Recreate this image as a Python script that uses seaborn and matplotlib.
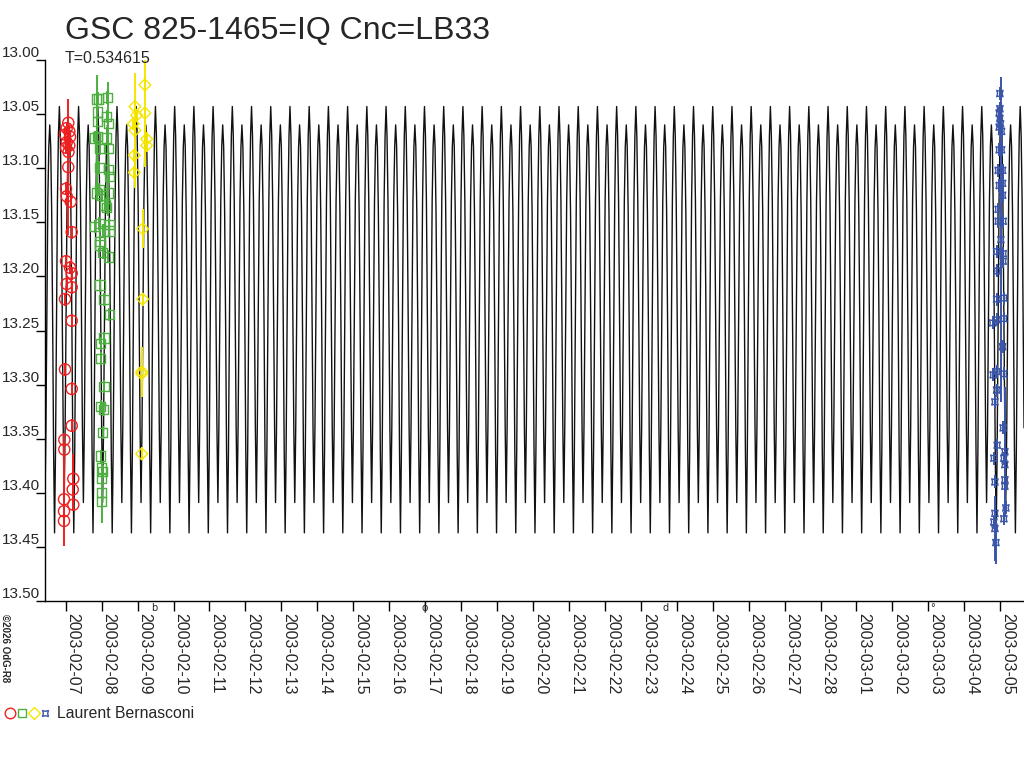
import numpy as np
import pandas as pd
import matplotlib
matplotlib.use("Agg")
import matplotlib.pyplot as plt
import matplotlib.transforms as mtransforms
import seaborn as sns

# times are days after 2003-02-07 00:00 UT
START = "2003-02-07"
END = "2003-03-05"
PERIOD = 0.534615
EPOCH_MIN = 9.313  # a primary minimum, ~2003-02-16 07:30 UT

# one cycle of the model curve (phase 0 = primary minimum)
cycle_phase = [0.00, 0.05, 0.10, 0.15, 0.20, 0.25, 0.30, 0.35, 0.40, 0.45,
               0.50, 0.55, 0.60, 0.65, 0.70, 0.75, 0.80, 0.85, 0.90, 0.95]
cycle_mag = [13.437, 13.360, 13.240, 13.130, 13.070, 13.043, 13.070, 13.130, 13.230, 13.340,
             13.409, 13.340, 13.230, 13.130, 13.080, 13.060, 13.080, 13.140, 13.240, 13.360]

# observations (Laurent Bernasconi), four runs
red_t = [0.072, 0.028, 0.100, -0.019, 0.120, 0.028, 0.100, 0.008, 0.078,
         0.072, 0.008, 0.028, 0.139, 0.167,
         0.008, 0.120, 0.167, 0.028, 0.167, -0.019,
         0.167, -0.019, 0.167, 0.167, -0.039, -0.039,
         0.211, 0.195, -0.047, 0.211, -0.047, -0.047]
red_mag = [13.058, 13.063, 13.066, 13.069, 13.071, 13.076, 13.079, 13.081, 13.085,
           13.099, 13.119, 13.126, 13.131, 13.159,
           13.186, 13.192, 13.197, 13.207, 13.210, 13.221,
           13.241, 13.286, 13.304, 13.338, 13.351, 13.360,
           13.387, 13.397, 13.406, 13.411, 13.417, 13.426]
red_err = [0.006] * 9 + [0.063] + [0.006] * 16 + [0.023, 0.006, 0.043, 0.006, 0.006, 0.006]

green_t = [0.862, 0.907, 1.157, 0.879, 1.140, 0.879, 1.185, 0.815, 0.879, 1.140,
           0.954, 1.185, 0.935, 1.185, 1.213, 0.935, 0.862, 1.001, 1.185, 1.093,
           1.140, 0.815, 0.935, 1.213, 1.046, 1.213, 0.954, 0.954, 1.029, 1.185,
           0.954, 1.065, 1.213, 1.065, 0.974, 0.974, 1.065, 0.974, 1.046, 1.029,
           0.974, 1.001, 1.029, 1.001, 1.001, 1.001]
green_mag = [13.036, 13.036, 13.035, 13.048, 13.052, 13.057, 13.059, 13.072, 13.071, 13.072,
             13.082, 13.082, 13.099, 13.101, 13.108, 13.120, 13.123, 13.125, 13.123, 13.134,
             13.136, 13.154, 13.151, 13.152, 13.158, 13.158, 13.168, 13.171, 13.178, 13.182,
             13.208, 13.221, 13.235, 13.257, 13.262, 13.276, 13.302, 13.320, 13.323, 13.344,
             13.366, 13.377, 13.380, 13.387, 13.400, 13.408]
green_err = [0.006] * 8 + [0.057, 0.006, 0.006, 0.062] + [0.006] * 32 + [0.028, 0.006]

yellow_t = [1.925, 1.975, 1.880, 1.925, 2.203, 2.203, 2.253, 2.253, 1.908, 1.908,
            2.142, 2.142, 2.114, 2.114, 2.114]
yellow_mag = [13.043, 13.051, 13.059, 13.065, 13.023, 13.049, 13.073, 13.079, 13.088, 13.104,
              13.156, 13.221, 13.288, 13.290, 13.364]
yellow_err = [0.006, 0.006, 0.006, 0.053, 0.006, 0.050, 0.006, 0.006, 0.006, 0.006,
              0.018, 0.006, 0.023, 0.006, 0.006]

blue_t = [25.989, 25.989, 25.970, 25.989, 26.008, 25.970, 26.036, 25.970, 26.036, 25.942,
          26.064, 25.970, 26.064, 26.064, 25.942, 25.942, 26.081, 26.017, 25.897, 26.081,
          26.081, 25.914, 25.897, 26.100, 25.786, 25.897, 26.100, 26.064, 25.803, 25.914,
          26.100, 25.897, 25.850, 26.081, 25.914, 26.127, 25.822, 26.100, 26.127, 25.850,
          26.127, 26.127, 26.155, 26.100, 25.850, 25.822, 25.850, 25.878]
blue_mag = [13.031, 13.045, 13.049, 13.054, 13.059, 13.062, 13.066, 13.083, 13.083, 13.102,
            13.102, 13.116, 13.114, 13.125, 13.138, 13.149, 13.149, 13.166, 13.177, 13.179,
            13.186, 13.195, 13.221, 13.220, 13.243, 13.240, 13.239, 13.265, 13.291, 13.288,
            13.290, 13.305, 13.316, 13.340, 13.356, 13.362, 13.368, 13.368, 13.374, 13.390,
            13.388, 13.394, 13.414, 13.424, 13.419, 13.427, 13.433, 13.446]
blue_err = [0.006] * 17 + [0.150] + [0.006] * 17 + [0.060] + [0.006] * 10 + [0.030, 0.020]

# moon phases (days after START): first quarter, full, last quarter, new
moon_t = [2.466, 9.994, 16.699, 24.108]
moon_sym = ["b", "\u03d5", "d", "\u00b0"]

sns.set_style("white")
plt.rcParams['font.family'] = ['Liberation Sans', 'DejaVu Sans']

fig = plt.figure(figsize=(10.24, 7.68), dpi=100)
ax = fig.add_axes([45 / 1024, 167 / 768, 979 / 1024, 541 / 768])

# model curve: the same cycle repeated with the period T
phase = np.array(cycle_phase)
k = np.arange(-20, 34)
model_t = (EPOCH_MIN + (k[:, None] + phase[None, :]) * PERIOD).ravel()
model_mag = np.tile(cycle_mag, len(k))
model = pd.DataFrame({"t": model_t, "mag": model_mag})
sns.lineplot(data=model, x="t", y="mag", ax=ax, color="#111111", lw=1.0,
             estimator=None, sort=False)

runs = [
    (red_t, red_mag, red_err, "#ee2020", "o", 64),
    (green_t, green_mag, green_err, "#4caf40", "s", 44),
    (yellow_t, yellow_mag, yellow_err, "#f5e600", "D", 36),
    (blue_t, blue_mag, blue_err, "#3a55a8", (4, 1, 45), 42),
]
for t, mag, err, col, mk, sz in runs:
    ax.errorbar(t, mag, yerr=err, fmt="none", ecolor=col, elinewidth=1.4, capsize=0)
    sns.scatterplot(x=t, y=mag, ax=ax, marker=mk, s=sz, facecolor="none",
                    edgecolor=col, linewidth=1.0, zorder=5)

ax.set_xlim(-0.576, 26.66)
ax.set_ylim(13.50, 13.00)
ax.set_xlabel("")
ax.set_ylabel("")

dates = pd.date_range(START, END, freq="D")
ax.set_xticks(np.arange(len(dates)), labels=dates.strftime("%Y-%m-%d"))
yt = np.round(np.arange(13.00, 13.501, 0.05), 2)
ax.set_yticks(yt, labels=[f"{v:.2f}" for v in yt])

ax.tick_params(axis="x", direction="out", length=7.5, width=1, color="black",
               labelsize=11.5, pad=1, labelrotation=270, bottom=True)
ax.tick_params(axis="y", direction="out", length=6.5, width=1, color="black",
               labelsize=11, pad=-3.2, left=True)
for lab in ax.get_xticklabels():
    lab.set_ha("left")
    lab.set_va("top")
for lab in ax.get_yticklabels():
    lab.set_va("bottom")

sns.despine(ax=ax)
for s in ["left", "bottom"]:
    ax.spines[s].set_color("black")
    ax.spines[s].set_linewidth(1)
ax.grid(False)

# moon phase symbols just below the axis
trans = mtransforms.blended_transform_factory(ax.transData, ax.transAxes)
for mt, sym in zip(moon_t, moon_sym):
    ax.text(mt, -0.004, sym, transform=trans, ha="center", va="top", fontsize=7,
            family="DejaVu Sans", clip_on=False)

fig.text(65 / 1024, 1 - 39 / 768, "GSC 825-1465=IQ Cnc=LB33", fontsize=23,
         va="baseline", ha="left")
fig.text(65 / 1024, 1 - 63 / 768, "T=0.534615", fontsize=11.5, va="baseline", ha="left")
fig.text(0.0, 1 - 614 / 768, "\u00a92026 OdG-R8", fontsize=7, rotation=270,
         va="top", ha="left", fontweight="bold")

# legend row at the bottom
leg_y = 1 - 713 / 768
for xp, (_, _, _, col, mk, sz) in zip([10, 22, 34, 45], runs):
    fig.add_artist(plt.Line2D([xp / 1024], [leg_y], marker=mk, ms=np.sqrt(sz) * 0.95,
                              mfc="none", mec=col, mew=1.0, ls="none"))
fig.text(57 / 1024, leg_y, "Laurent Bernasconi", fontsize=11.3, va="center", ha="left")

fig.savefig("out.png", dpi=100, facecolor="white")
